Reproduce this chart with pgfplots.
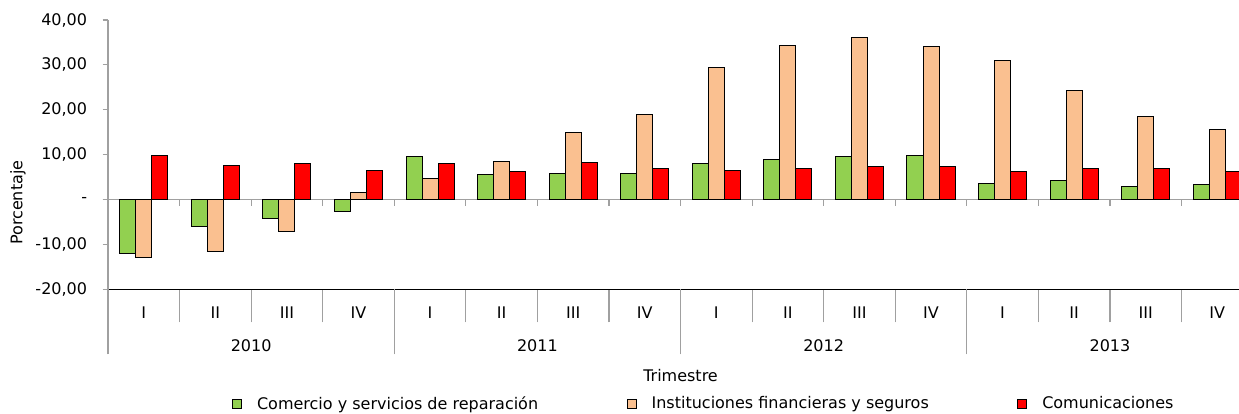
\documentclass[border=0pt]{standalone}
\usepackage{fontspec}
\setmainfont{DejaVu Sans}
\usepackage{pgfplots}
\pgfplotsset{compat=1.18}
\usepackage{pgfplotstable}
\definecolor{cgreen}{HTML}{92D050}
\definecolor{cpeach}{HTML}{FAC090}
\definecolor{cred}{HTML}{FF0000}
\definecolor{axgray}{HTML}{A0A0A0}
\pgfplotstableread{
x green peach red
0 -12.05 -13.0 9.75
1 -6.1 -11.6 7.65
2 -4.3 -7.15 8.1
3 -2.75 1.5 6.4
4 9.6 4.75 7.95
5 5.65 8.5 6.3
6 5.9 15.0 8.2
7 5.7 19.0 6.9
8 8.0 29.5 6.55
9 8.95 34.4 6.9
10 9.7 36.2 7.45
11 9.8 34.1 7.3
12 3.5 30.9 6.15
13 4.3 24.4 7.0
14 2.8 18.6 6.85
15 3.25 15.5 6.2
}\datatable
\newcommand\f{\fontsize{12}{14}\selectfont}
\begin{document}
\f
\begin{tikzpicture}[font=\f]
\path[use as bounding box] (-81pt,-93.5pt) rectangle (848.25pt,217pt);
\begin{axis}[
  at={(0,0)}, anchor=south west,
  width=848.6pt, height=202pt, scale only axis,
  xmin=-0.5, xmax=15.31, ymin=-20, ymax=40,
  clip=false,
  ybar=0pt, bar width=0.224,
  axis x line=bottom, axis y line=left,
  x axis line style={-, black, line width=1.1pt},
  y axis line style={-, axgray, line width=0.9pt},
  tick align=outside,
  ytick={-20,-10,0,10,20,30,40},
  yticklabels={{-20,00},{-10,00},{-},{10,00},{20,00},{30,00},{40,00}},
  ytick style={axgray, line width=0.9pt},
  major tick length=4pt,
  yticklabel style={font=\f, text=black, xshift=-7.5pt},
  xtick={0,...,15},
  xticklabels={I,II,III,IV,I,II,III,IV,I,II,III,IV,I,II,III,IV},
  major x tick style={draw=none},
  xticklabel style={font=\f, text=black, anchor=center, yshift=-13.3pt},
  minor xtick={0.5,1.5,...,14.5},
  minor tick length=24.75pt,
  minor x tick style={draw=axgray, line width=0.9pt},
  extra x ticks={-0.5,3.5,7.5,11.5},
  extra x tick labels={},
  extra x tick style={major tick length=48.75pt, major x tick style={draw=axgray, line width=0.9pt}},
  extra y ticks={0},
  extra y tick labels={},
  extra y tick style={grid=major, major grid style={axgray, line width=0.9pt}},
  ylabel={Porcentaje},
  ylabel style={at={(axis description cs:-0.0795,0.3216)}, anchor=center, font=\f},
  legend style={at={(axis description cs:0,0)}, anchor=west, xshift=93pt, yshift=-85.9pt,
    draw=none, fill=none, inner sep=0pt, legend columns=3, font=\f,
    nodes={inner sep=0pt},
    column sep=11.25pt,
    /tikz/every even column/.append style={column sep=66.5pt}},
  legend cell align=left,
  legend image code/.code={\draw[#1, line width=0.6pt] (0pt,-3.375pt) rectangle (6.75pt,3.375pt);},
]
\addplot[fill=cgreen, draw=black, line width=0.75pt] table[x=x, y=green] {\datatable};
\addlegendentry{Comercio y servicios de reparación}
\addplot[fill=cpeach, draw=black, line width=0.75pt] table[x=x, y=peach] {\datatable};
\addlegendentry{Instituciones financieras y seguros}
\addplot[fill=cred, draw=black, line width=0.75pt] table[x=x, y=red] {\datatable};
\addlegendentry{Comunicaciones}
\pgfplotsinvokeforeach{0,...,14}{\draw[axgray, line width=0.9pt] (axis cs:#1.5,0) -- (axis cs:#1.5,-1.4);}
\node[anchor=center] at (axis cs:1.5,-20) [yshift=-42pt] {2010};
\node[anchor=center] at (axis cs:5.5,-20) [yshift=-42pt] {2011};
\node[anchor=center] at (axis cs:9.5,-20) [yshift=-42pt] {2012};
\node[anchor=center] at (axis cs:13.5,-20) [yshift=-42pt] {2013};
\node[anchor=center] at (axis cs:7.5,-20) [yshift=-64.5pt] {Trimestre};
\end{axis}
\end{tikzpicture}
\end{document}
